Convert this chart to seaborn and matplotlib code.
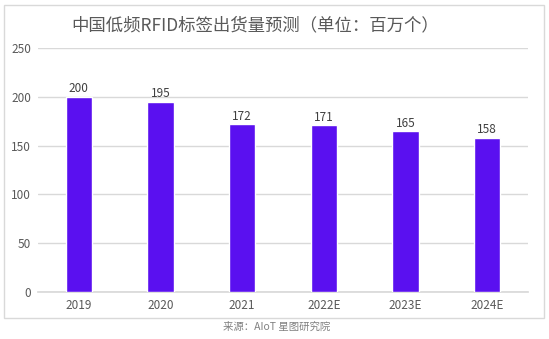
import matplotlib
matplotlib.use("Agg")
import matplotlib.pyplot as plt
import seaborn as sns
import pandas as pd
from matplotlib.patches import Rectangle

years = ["2019", "2020", "2021", "2022E", "2023E", "2024E"]
values = [200, 195, 172, 171, 165, 158]
title = "中国低频RFID标签出货量预测（单位：百万个）"
source = "来源：AIoT 星图研究院"

sns.set_theme(style="white")
plt.rcParams['font.family'] = ['Noto Sans CJK SC', 'DejaVu Sans']

df = pd.DataFrame({"year": years, "value": values})

fig = plt.figure(figsize=(5.49, 3.39), dpi=100)
ax = fig.add_axes([38/549, 1-292/339, 490/549, 244/339])

sns.barplot(data=df, x="year", y="value", color="#5A10F0", saturation=1,
            width=0.32, ax=ax, zorder=3)

ax.set_ylim(0, 250)
ax.set_yticks([0, 50, 100, 150, 200, 250])
ax.yaxis.grid(True, color="#D9D9D9", linewidth=1, zorder=0)
ax.set_axisbelow(True)
for s in ["top", "right", "left"]:
    ax.spines[s].set_visible(False)
ax.spines["bottom"].set_color("#D9D9D9")
ax.set_xlabel("")
ax.set_ylabel("")
ax.tick_params(axis="both", length=0, labelsize=8.5, labelcolor="#595959", pad=5)

for c in ax.containers:
    ax.bar_label(c, fmt="%d", fontsize=8.5, color="#404040", padding=1)

fig.text(255/549, 1-25/339, title, ha="center", va="center", fontsize=12.5, color="#595959")
fig.text(277/549, 1-327/339, source, ha="center", va="center", fontsize=7.5,
         color="#808080", style="italic")

fig.patches.append(Rectangle((4/549, 1-318/339), 540/549, 313/339, transform=fig.transFigure,
                             fill=False, edgecolor="#D9D9D9", linewidth=1))

fig.savefig("out.png", dpi=100)
